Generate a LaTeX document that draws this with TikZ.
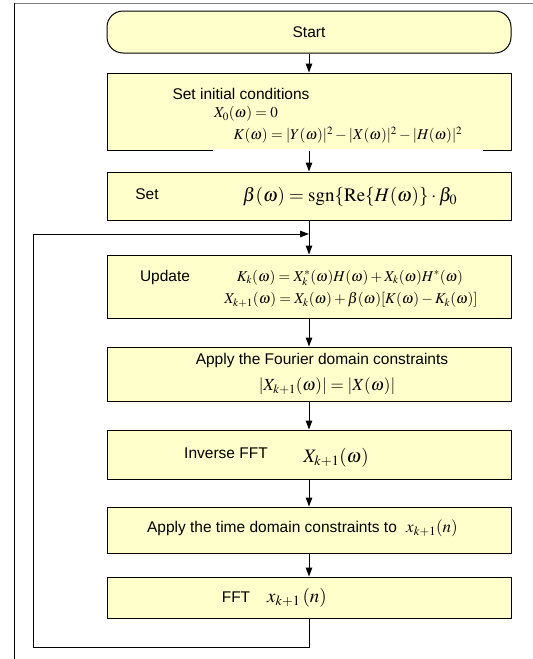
\documentclass[tikz,border=0pt]{standalone}
\usepackage{mathptmx}
\usepackage{fontspec}
\setmainfont{Liberation Sans}
\usetikzlibrary{arrows.meta}
\definecolor{paleyellow}{RGB}{255,255,204}
\tikzset{
  stage/.style={draw, line width=1pt, fill=paleyellow, minimum width=404pt, inner sep=0pt},
  startstage/.style={stage, rounded corners=16pt, minimum height=42pt},
  lbl/.style={inner sep=0pt, font=\fontsize{15.5}{18}\selectfont},
  eq/.style={inner sep=0pt, font=\fontsize{15}{17}\selectfont},
  bigeq/.style={inner sep=0pt, font=\fontsize{19}{22}\selectfont}
}
\tikzset{arr/.style={line width=1pt, -{Triangle[length=9pt,width=6.5pt]}}}
\begin{document}
\begin{tikzpicture}[x=1pt,y=-1pt]
      \useasboundingbox (0,0) rectangle (533,659);
      \draw[gray, line width=1pt] (14,3) -- (533,3);
      \draw[line width=1pt] (14,3) -- (14,659);
      \node[startstage] (start) at (309,32) {};
      \node[lbl] (starttxt) at (309,32) {Start};
      \node[stage, minimum height=77pt] (init) at (309,111.5) {};
      \fill[white] (213,149) rectangle (483,153);
      \node[lbl] (inittxt) at (241,94) {Set initial conditions};
      \node[eq] (initx) at (246,114) {$X_0(\omega)=0$};
      \node[eq] (initk) at (348,135) {$K(\omega)=|Y(\omega)|^2-|X(\omega)|^2-|H(\omega)|^2$};
      \node[stage, minimum height=48pt] (beta) at (309,196) {};
      \node[lbl] (betatxt) at (147,194) {Set};
      \node[bigeq] (betaeq) at (350,197) {$\beta(\omega)=\mathrm{sgn}\{\mathrm{Re}\{H(\omega)\}\cdot\beta_0$};
      \node[stage, minimum height=63pt] (update) at (309,286.5) {};
      \node[lbl] (updatetxt) at (165,277) {Update};
      \node[eq] (updatek) at (350,278) {$K_k(\omega)=X_k^*(\omega)H(\omega)+X_k(\omega)H^*(\omega)$};
      \node[eq] (updatex) at (351,300) {$X_{k+1}(\omega)=X_k(\omega)+\beta(\omega)[K(\omega)-K_k(\omega)]$};
      \node[stage, minimum height=54pt] (fourier) at (309,374) {};
      \node[lbl] (fouriertxt) at (322,360) {Apply the Fourier domain constraints};
      \node[font=\fontsize{17}{20}\selectfont, inner sep=0pt] (fouriereq) at (327,386) {$|X_{k+1}(\omega)|=|X(\omega)|$};
      \node[stage, minimum height=49pt] (ifft) at (309,454.5) {};
      \node[lbl] (iffttxt) at (226,453) {Inverse FFT};
      \node[bigeq] (iffteq) at (336,458) {$X_{k+1}(\omega)$};
      \node[stage, minimum height=46pt] (time) at (309,530) {};
      \node[lbl] (timetxt) at (272,528) {Apply the time domain constraints to};
      \node[font=\fontsize{17}{20}\selectfont, inner sep=0pt] (timeeq) at (432,528) {$x_{k+1}(n)$};
      \node[stage, minimum height=41pt] (fft) at (309,597.5) {};
      \node[lbl] (ffttxt) at (236,597) {FFT};
      \node[bigeq] (ffteq) at (297,598) {$x_{k+1}\,(n)$};
      \coordinate (loopbot) at (33,647);
      \coordinate (looptop) at (33,234);
      \coordinate (join) at (309,234);
      \begin{scope}[arr]
        \draw (start) to (init);
        \draw (init) to (beta);
        \draw (beta) to (update);
        \draw (update) to (fourier);
        \draw (fourier) to (ifft);
        \draw (ifft) to (time);
        \draw (time) to (fft);
        \draw (fft.south) |- (loopbot) -- (looptop) -- (join);
      \end{scope}
    \end{tikzpicture}
\end{document}
